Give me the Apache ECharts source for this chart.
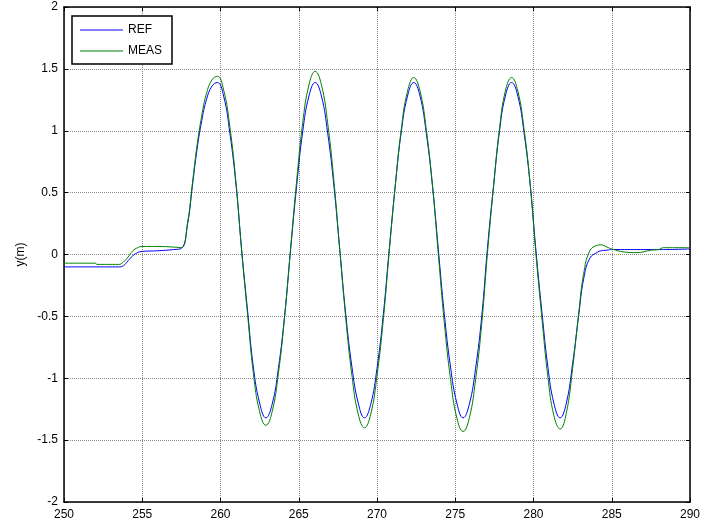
<!DOCTYPE html>
<html>
<head>
<meta charset="utf-8">
<script src="https://cdn.jsdelivr.net/npm/echarts@6/dist/echarts.min.js"></script>
<style>
html,body{margin:0;padding:0;background:#fff;}
#chart{width:704px;height:531px;}
</style>
</head>
<body>
<div id="chart"></div>
<script>
// time (s)
var t = [
  250.0, 252.0, 252.1, 253.5, 253.8, 254.1, 254.4, 254.7, 255.0, 256.0, 257.0, 257.5,
  257.9, 258.2, 258.5, 258.8, 259.1, 259.45, 259.8,
  260.2, 260.6, 261.0, 261.35, 261.75, 262.1, 262.5, 262.9,
  263.3, 263.7, 264.1, 264.48, 264.87, 265.25, 265.65, 266.05,
  266.45, 266.85, 267.25, 267.62, 268.0, 268.4, 268.8, 269.2,
  269.6, 270.0, 270.4, 270.78, 271.17, 271.55, 271.95, 272.35,
  272.75, 273.15, 273.55, 273.92, 274.3, 274.7, 275.1, 275.5,
  275.9, 276.3, 276.7, 277.05, 277.45, 277.82, 278.2, 278.6,
  279.0, 279.4, 279.8, 280.15, 280.55, 280.92, 281.3, 281.7,
  282.1, 282.5, 282.9, 283.2, 283.6, 284.1, 284.3, 284.7, 285.0, 285.8, 286.6, 287.5, 288.0, 288.3, 290.0
];
// REF y (m)
var ref = [
  -0.10, -0.10, -0.10, -0.10, -0.09, -0.05, -0.01, 0.015, 0.025, 0.03, 0.04, 0.05,
  0.25, 0.55, 0.85, 1.08, 1.25, 1.36, 1.39,
  1.28, 0.98, 0.55, 0.04, -0.48, -0.91, -1.20, -1.32,
  -1.21, -0.92, -0.49, 0.04, 0.56, 0.99, 1.28, 1.39,
  1.28, 0.98, 0.55, 0.04, -0.48, -0.91, -1.20, -1.32,
  -1.21, -0.92, -0.49, 0.04, 0.56, 0.99, 1.28, 1.39,
  1.28, 0.98, 0.55, 0.04, -0.48, -0.91, -1.20, -1.32,
  -1.21, -0.92, -0.49, 0.04, 0.56, 0.99, 1.28, 1.39,
  1.28, 0.98, 0.55, 0.04, -0.48, -0.91, -1.20, -1.32,
  -1.20, -0.88, -0.48, -0.20, -0.03, 0.02, 0.03, 0.035, 0.04, 0.04, 0.04, 0.04, 0.04, 0.04, 0.045
];
// MEAS y (m)
var meas = [
  -0.07, -0.07, -0.08, -0.08, -0.06, -0.02, 0.03, 0.055, 0.065, 0.065, 0.06, 0.055,
  0.26, 0.57, 0.88, 1.12, 1.30, 1.41, 1.44,
  1.33, 1.03, 0.57, 0.03, -0.51, -0.96, -1.27, -1.38,
  -1.27, -0.96, -0.50, 0.05, 0.60, 1.06, 1.37, 1.48,
  1.37, 1.06, 0.59, 0.04, -0.51, -0.98, -1.29, -1.40,
  -1.29, -0.98, -0.53, 0.02, 0.56, 1.01, 1.32, 1.43,
  1.32, 1.01, 0.55, 0.00, -0.55, -1.01, -1.32, -1.43,
  -1.32, -1.01, -0.55, 0.00, 0.55, 1.01, 1.32, 1.43,
  1.32, 1.01, 0.55, 0.01, -0.53, -0.99, -1.30, -1.41,
  -1.28, -0.92, -0.46, -0.16, 0.03, 0.075, 0.078, 0.06, 0.045, 0.02, 0.015, 0.035, 0.04, 0.055, 0.055
];
var seriesNames = ['REF', 'MEAS'];
var yAxisName = 'y(m)';

var refData = t.map(function (x, i) { return [x, ref[i]]; });
var measData = t.map(function (x, i) { return [x, meas[i]]; });

var font = 'Liberation Sans, Arial, sans-serif';
var chart = echarts.init(document.getElementById('chart'), null, {renderer: 'canvas'});
var axisLineStyle = {color: '#000', width: 1.5};
var tickStyle = {show: true, inside: true, length: 4, lineStyle: {color: '#000', width: 1}};
chart.setOption({
  animation: false,
  backgroundColor: '#fff',
  grid: {left: 64, right: 14, top: 7, bottom: 29, containLabel: false},
  legend: {
    data: seriesNames,
    orient: 'vertical',
    left: 72, top: 16,
    backgroundColor: '#fff',
    borderColor: '#000', borderWidth: 1.5, borderRadius: 0,
    padding: [7, 10, 6, 8],
    icon: 'rect',
    itemWidth: 43, itemHeight: 1.2, itemGap: 7,
    textStyle: {fontFamily: font, fontSize: 12, color: '#000', lineHeight: 14}
  },
  xAxis: [{
    type: 'value', min: 250, max: 290, interval: 5,
    axisLine: {show: true, onZero: false, lineStyle: axisLineStyle},
    axisTick: tickStyle,
    axisLabel: {color: '#000', fontFamily: font, fontSize: 12, margin: 7},
    splitLine: {show: true, lineStyle: {color: '#888', type: 'dotted', width: 1}}
  }, {
    type: 'value', min: 250, max: 290, interval: 5, position: 'top',
    axisLine: {show: true, onZero: false, lineStyle: axisLineStyle},
    axisTick: tickStyle,
    axisLabel: {show: false},
    splitLine: {show: false}
  }],
  yAxis: [{
    type: 'value', min: -2, max: 2, interval: 0.5,
    name: yAxisName, nameLocation: 'middle', nameGap: 35, nameRotate: 90,
    nameTextStyle: {color: '#000', fontFamily: font, fontSize: 12},
    axisLine: {show: true, onZero: false, lineStyle: axisLineStyle},
    axisTick: tickStyle,
    axisLabel: {color: '#000', fontFamily: font, fontSize: 12, margin: 6},
    splitLine: {show: true, lineStyle: {color: '#888', type: 'dotted', width: 1}}
  }, {
    type: 'value', min: -2, max: 2, interval: 0.5, position: 'right',
    axisLine: {show: true, onZero: false, lineStyle: axisLineStyle},
    axisTick: tickStyle,
    axisLabel: {show: false},
    splitLine: {show: false}
  }],
  series: [{
    name: seriesNames[0], type: 'line', data: refData,
    xAxisIndex: 0, yAxisIndex: 0,
    symbol: 'none', smooth: 0.45,
    lineStyle: {color: '#0000ff', width: 1},
    itemStyle: {color: '#0000ff'}
  }, {
    name: seriesNames[1], type: 'line', data: measData,
    xAxisIndex: 0, yAxisIndex: 0,
    symbol: 'none', smooth: 0.45,
    lineStyle: {color: '#008000', width: 1},
    itemStyle: {color: '#008000'}
  }]
});
</script>
</body>
</html>
